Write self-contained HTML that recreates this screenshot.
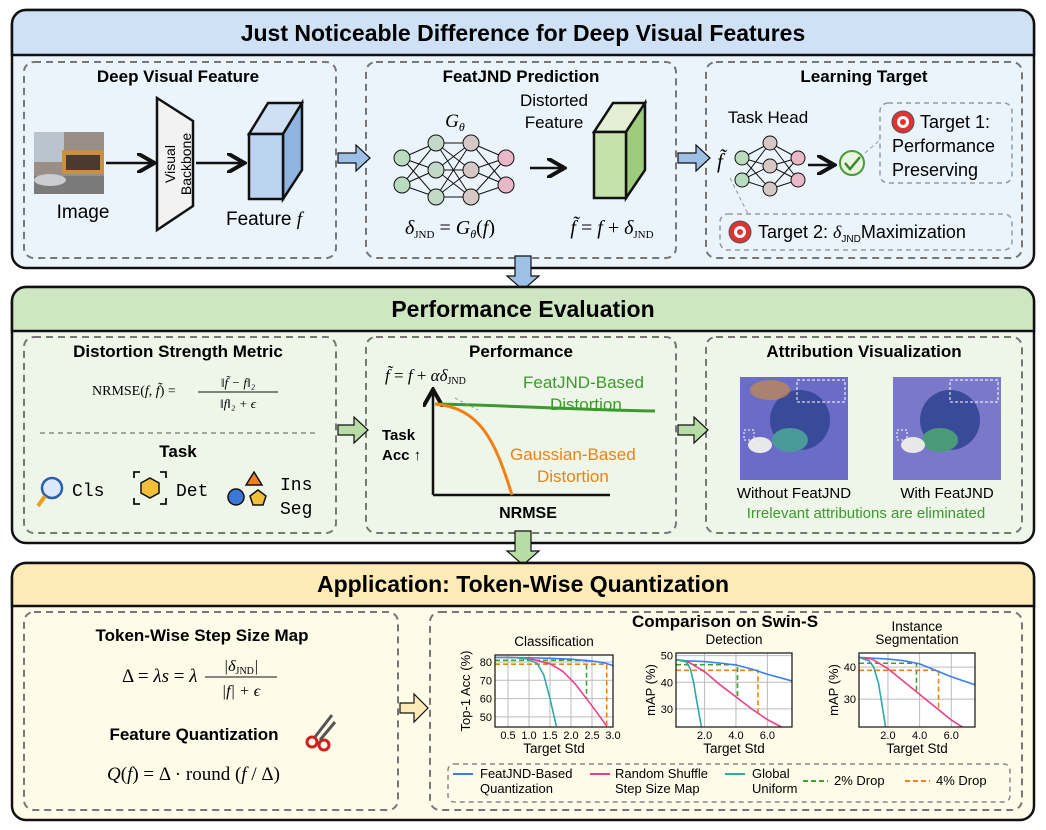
<!DOCTYPE html>
<html><head><meta charset="utf-8"><style>
body{margin:0;background:#fff;}
svg{display:block;font-family:"Liberation Sans",sans-serif;}
.t{font-weight:bold;}
.m{font-family:"Liberation Serif",serif;font-style:italic;}
</style></head><body>
<svg id="root" width="1046" height="830" viewBox="0 0 1046 830" xmlns="http://www.w3.org/2000/svg">
<defs>
<marker id="ah" markerWidth="8" markerHeight="8" refX="6" refY="4" orient="auto"><path d="M0,0 L7,4 L0,8" fill="none" stroke="#111" stroke-width="1.6"/></marker>
</defs>
<g>
<rect x="12" y="10" width="1022" height="258" rx="14" fill="#ebf3fb" stroke="#111" stroke-width="2.5"/>
<path d="M12,24 a14,14 0 0 1 14,-14 h994 a14,14 0 0 1 14,14 v31 h-1022z" fill="#cfe1f4" stroke="#111" stroke-width="2.5"/>
<text x="523" y="41" text-anchor="middle" class="t" font-size="23">Just Noticeable Difference for Deep Visual Features</text>
<rect x="24" y="62" width="312" height="196" rx="10" fill="none" stroke="#777" stroke-width="2" stroke-dasharray="7,5"/>
<rect x="366" y="62" width="310" height="196" rx="10" fill="none" stroke="#777" stroke-width="2" stroke-dasharray="7,5"/>
<rect x="706" y="62" width="316" height="196" rx="10" fill="none" stroke="#777" stroke-width="2" stroke-dasharray="7,5"/>
<text x="178" y="82" text-anchor="middle" class="t" font-size="17">Deep Visual Feature</text>
<text x="521" y="82" text-anchor="middle" class="t" font-size="17">FeatJND Prediction</text>
<text x="864" y="82" text-anchor="middle" class="t" font-size="17">Learning Target</text>
<g>
<rect x="34" y="132" width="70" height="62" fill="#9a8f86"/>
<rect x="34" y="132" width="30" height="30" fill="#b9c4cc"/>
<rect x="62" y="150" width="42" height="24" fill="#c89040"/>
<rect x="66" y="155" width="34" height="15" fill="#4a3a30"/>
<rect x="34" y="176" width="70" height="18" fill="#7a7a7a"/>
<ellipse cx="50" cy="180" rx="16" ry="6" fill="#c9cdd2"/>
</g>
<text x="83" y="218" text-anchor="middle" font-size="19">Image</text>
<line x1="106" y1="163" x2="152" y2="163" stroke="#111" stroke-width="2.5" marker-end="url(#ah)"/>
<path d="M157,98 L193,121 L193,206 L157,230 Z" fill="#f2f2f2" stroke="#111" stroke-width="2.5"/>
<text transform="translate(177,164) rotate(-90)" text-anchor="middle" font-size="14"><tspan x="0" dy="-2">Visual</tspan><tspan x="0" dy="16">Backbone</tspan></text>
<line x1="196" y1="163" x2="242" y2="163" stroke="#111" stroke-width="2.5" marker-end="url(#ah)"/>
<path d="M249,134 L268,103 L302,103 L283,134Z" fill="#cfe0f4" stroke="#111" stroke-width="2.5"/>
<path d="M283,134 L302,103 L302,170 L283,199Z" fill="#8fb4e0" stroke="#111" stroke-width="2.5"/>
<rect x="249" y="134" width="34" height="65" fill="#bcd4f0" stroke="#111" stroke-width="2.5"/>
<text x="226" y="225" font-size="19">Feature <tspan class="m">f</tspan></text>
<path d="M338,153 h18 v-8 l14,13 l-14,13 v-8 h-18z" fill="#9cc0e6" stroke="#111" stroke-width="1.2"/>
<g stroke="#111" stroke-width="1">
<path d="M402,158 L436,143 M402,158 L436,170 M402,158 L436,197 M402,185 L436,143 M402,185 L436,170 M402,185 L436,197
M436,143 L471,143 M436,143 L471,170 M436,143 L471,197 M436,170 L471,143 M436,170 L471,170 M436,170 L471,197 M436,197 L471,143 M436,197 L471,170 M436,197 L471,197
M471,143 L506,158 M471,143 L506,185 M471,170 L506,158 M471,170 L506,185 M471,197 L506,158 M471,197 L506,185"/>
<circle cx="402" cy="158" r="8" fill="#b9dcbf"/><circle cx="402" cy="185" r="8" fill="#b9dcbf"/>
<circle cx="436" cy="143" r="8" fill="#c2d9c8"/><circle cx="436" cy="170" r="8" fill="#c2d9c8"/><circle cx="436" cy="197" r="8" fill="#c2d9c8"/>
<circle cx="471" cy="143" r="8" fill="#d6c8c5"/><circle cx="471" cy="170" r="8" fill="#d6c8c5"/><circle cx="471" cy="197" r="8" fill="#d6c8c5"/>
<circle cx="506" cy="158" r="8" fill="#e9b8c8"/><circle cx="506" cy="185" r="8" fill="#e9b8c8"/>
</g>
<text x="455" y="127" text-anchor="middle" class="m" font-size="19">G<tspan font-size="12" dy="4">θ</tspan></text>
<text x="554" y="106" text-anchor="middle" font-size="17">Distorted</text>
<text x="554" y="128" text-anchor="middle" font-size="17">Feature</text>
<line x1="530" y1="168" x2="562" y2="168" stroke="#111" stroke-width="2.5" marker-end="url(#ah)"/>
<path d="M594,132 L613,103 L645,103 L626,132Z" fill="#e3f0d6" stroke="#111" stroke-width="2.5"/>
<path d="M626,132 L645,103 L645,170 L626,198Z" fill="#9fcc7c" stroke="#111" stroke-width="2.5"/>
<rect x="594" y="132" width="32" height="66" fill="#c6e2ac" stroke="#111" stroke-width="2.5"/>
<text x="450" y="234" text-anchor="middle" class="m" font-size="20">δ<tspan font-size="11" dy="4" font-style="normal">JND</tspan><tspan dy="-4" font-style="normal"> = </tspan>G<tspan font-size="12" dy="4">θ</tspan><tspan dy="-4" font-style="normal">(</tspan>f<tspan font-style="normal">)</tspan></text>
<text x="612" y="234" text-anchor="middle" class="m" font-size="20">f̃<tspan font-style="normal"> = </tspan>f<tspan font-style="normal"> + </tspan>δ<tspan font-size="11" dy="4" font-style="normal">JND</tspan></text>
<path d="M678,153 h18 v-8 l14,13 l-14,13 v-8 h-18z" fill="#9cc0e6" stroke="#111" stroke-width="1.2"/>
<text x="717" y="168" class="m" font-size="21">f̃</text>
<text x="768" y="123" text-anchor="middle" font-size="17">Task Head</text>
<g stroke="#111" stroke-width="1">
<path d="M742,158 L770,143 M742,158 L770,166 M742,158 L770,189 M742,180 L770,143 M742,180 L770,166 M742,180 L770,189 M770,143 L798,158 M770,166 L798,158 M770,189 L798,158 M770,143 L798,180 M770,166 L798,180 M770,189 L798,180"/>
<circle cx="742" cy="158" r="7" fill="#b9dcbf"/><circle cx="742" cy="180" r="7" fill="#b9dcbf"/>
<circle cx="770" cy="143" r="7" fill="#d6c8c5"/><circle cx="770" cy="166" r="7" fill="#d6c8c5"/><circle cx="770" cy="189" r="7" fill="#d6c8c5"/>
<circle cx="798" cy="158" r="7" fill="#e9b8c8"/><circle cx="798" cy="180" r="7" fill="#e9b8c8"/>
</g>
<line x1="808" y1="165" x2="832" y2="165" stroke="#111" stroke-width="2.5" marker-end="url(#ah)"/>
<circle cx="852" cy="163" r="12" fill="#e8f5e0" stroke="#4a9a3a" stroke-width="2"/>
<path d="M845,163 l5,6 l10,-12" fill="none" stroke="#3a8a2a" stroke-width="2.5"/>
<rect x="880" y="103" width="132" height="80" rx="8" fill="none" stroke="#999" stroke-width="1.5" stroke-dasharray="5,4"/>
<line x1="865" y1="153" x2="880" y2="140" stroke="#999" stroke-dasharray="4,3"/>
<circle cx="903" cy="122" r="11" fill="#d33" stroke="#555"/><circle cx="903" cy="122" r="6" fill="#fff"/><circle cx="903" cy="122" r="3" fill="#d33"/>
<text x="920" y="128" font-size="18">Target 1:</text>
<text x="892" y="152" font-size="18">Performance</text>
<text x="892" y="176" font-size="18">Preserving</text>
<rect x="720" y="214" width="292" height="36" rx="8" fill="none" stroke="#999" stroke-width="1.5" stroke-dasharray="5,4"/>
<line x1="730" y1="178" x2="748" y2="214" stroke="#999" stroke-dasharray="4,3"/>
<circle cx="740" cy="232" r="11" fill="#d33" stroke="#555"/><circle cx="740" cy="232" r="6" fill="#fff"/><circle cx="740" cy="232" r="3" fill="#d33"/>
<text x="758" y="238" font-size="18">Target 2: <tspan class="m">δ</tspan><tspan font-size="10" dy="4">JND</tspan><tspan dy="-4">Maximization</tspan></text>
</g>
<path d="M515,256 h16 v20 h8 l-16,14 l-16,-14 h8z" fill="#9cc0e6" stroke="#111" stroke-width="1.2"/>
<g>
<rect x="12" y="287" width="1022" height="256" rx="14" fill="#eef6ea" stroke="#111" stroke-width="2.5"/>
<path d="M12,301 a14,14 0 0 1 14,-14 h994 a14,14 0 0 1 14,14 v30 h-1022z" fill="#cfe6c2" stroke="#111" stroke-width="2.5"/>
<text x="523" y="317" text-anchor="middle" class="t" font-size="23">Performance Evaluation</text>
<rect x="24" y="337" width="312" height="196" rx="10" fill="none" stroke="#777" stroke-width="2" stroke-dasharray="7,5"/>
<rect x="366" y="337" width="310" height="196" rx="10" fill="none" stroke="#777" stroke-width="2" stroke-dasharray="7,5"/>
<rect x="706" y="337" width="316" height="196" rx="10" fill="none" stroke="#777" stroke-width="2" stroke-dasharray="7,5"/>
<text x="178" y="357" text-anchor="middle" class="t" font-size="17">Distortion Strength Metric</text>
<text x="92" y="395" font-family="Liberation Serif" font-size="14">NRMSE(<tspan font-style="italic">f</tspan>, <tspan font-style="italic">f̃</tspan>) =</text>
<text x="238" y="387" text-anchor="middle" font-family="Liberation Serif" font-size="13" font-style="italic">‖f̃ − f‖₂</text>
<line x1="198" y1="392" x2="278" y2="392" stroke="#111"/>
<text x="238" y="408" text-anchor="middle" font-family="Liberation Serif" font-size="13" font-style="italic">‖f‖₂ + ϵ</text>
<line x1="40" y1="433" x2="318" y2="433" stroke="#888" stroke-width="1.5" stroke-dasharray="5,4"/>
<text x="178" y="457" text-anchor="middle" class="t" font-size="17">Task</text>
<circle cx="52" cy="488" r="10" fill="#dbe9fa" stroke="#2a5fb0" stroke-width="2.5"/>
<line x1="45" y1="496" x2="38" y2="506" stroke="#e8a020" stroke-width="4"/>
<text x="72" y="496" font-family="Liberation Mono" font-size="18">Cls</text>
<path d="M134,478 v-6 h6 M160,472 h6 v6 M166,498 v6 h-6 M140,504 h-6 v-6" fill="none" stroke="#111" stroke-width="1.8"/>
<path d="M150,478 l9,5 v10 l-9,5 l-9,-5 v-10z" fill="#f2c037" stroke="#111" stroke-width="1.5"/>
<text x="176" y="496" font-family="Liberation Mono" font-size="18">Det</text>
<circle cx="236" cy="497" r="8" fill="#3a78d8" stroke="#111" stroke-width="1.5"/>
<path d="M254,472 l8,13 h-16z" fill="#f08020" stroke="#111" stroke-width="1.5"/>
<path d="M258,490 l8,6 l-3,9 h-10 l-3,-9z" fill="#f2c037" stroke="#111" stroke-width="1.5"/>
<text x="280" y="490" font-family="Liberation Mono" font-size="18">Ins</text>
<text x="280" y="514" font-family="Liberation Mono" font-size="18">Seg</text>
<path d="M338,425 h16 v-8 l14,13 l-14,13 v-8 h-16z" fill="#b8dca6" stroke="#111" stroke-width="1.2"/>
<text x="521" y="357" text-anchor="middle" class="t" font-size="17">Performance</text>
<text x="385" y="381" class="m" font-size="17">f̃<tspan font-style="normal"> = </tspan>f<tspan font-style="normal"> + </tspan>αδ<tspan font-size="10" dy="3" font-style="normal">JND</tspan></text>
<line x1="433" y1="495" x2="433" y2="392" stroke="#111" stroke-width="2.5" marker-end="url(#ah)"/>
<line x1="433" y1="495" x2="610" y2="495" stroke="#111" stroke-width="2.5"/>
<path d="M435,404 C500,405 580,410 655,411" fill="none" stroke="#3a9a2a" stroke-width="3"/>
<path d="M435,404 C480,408 495,440 512,495" fill="none" stroke="#f08010" stroke-width="3"/>
<line x1="455" y1="398" x2="478" y2="410" stroke="#999" stroke-dasharray="3,3"/>
<text x="523" y="388" font-size="17" fill="#3a9a2a">FeatJND-Based</text>
<text x="550" y="410" font-size="17" fill="#3a9a2a">Distortion</text>
<text x="510" y="460" font-size="17" fill="#f08010">Gaussian-Based</text>
<text x="537" y="482" font-size="17" fill="#f08010">Distortion</text>
<text x="382" y="440" class="t" font-size="15">Task</text>
<text x="382" y="460" class="t" font-size="15">Acc ↑</text>
<text x="528" y="518" text-anchor="middle" class="t" font-size="16">NRMSE</text>
<path d="M678,425 h16 v-8 l14,13 l-14,13 v-8 h-16z" fill="#b8dca6" stroke="#111" stroke-width="1.2"/>
<text x="864" y="357" text-anchor="middle" class="t" font-size="17">Attribution Visualization</text>
<g>
<rect x="740" y="377" width="108" height="103" fill="#6a6cc8"/>
<ellipse cx="800" cy="420" rx="30" ry="30" fill="#3a4a9a"/>
<ellipse cx="770" cy="390" rx="20" ry="10" fill="#c88a4a" opacity=".7"/>
<ellipse cx="790" cy="440" rx="18" ry="12" fill="#4a9a9a"/>
<ellipse cx="760" cy="445" rx="12" ry="8" fill="#e8e8e8"/>
<rect x="797" y="380" width="48" height="22" fill="none" stroke="#fff" stroke-dasharray="3,2"/>
<rect x="744" y="430" width="10" height="10" fill="none" stroke="#fff" stroke-dasharray="2,2"/>
</g>
<g>
<rect x="893" y="377" width="108" height="103" fill="#7a78c8"/>
<ellipse cx="950" cy="420" rx="30" ry="30" fill="#3a4a9a"/>
<ellipse cx="940" cy="440" rx="18" ry="12" fill="#4a9a7a"/>
<ellipse cx="913" cy="445" rx="12" ry="8" fill="#e8e8e8"/>
<rect x="950" y="380" width="48" height="22" fill="none" stroke="#fff" stroke-dasharray="3,2"/>
<rect x="897" y="430" width="10" height="10" fill="none" stroke="#fff" stroke-dasharray="2,2"/>
</g>
<text x="794" y="498" text-anchor="middle" font-size="15">Without FeatJND</text>
<text x="947" y="498" text-anchor="middle" font-size="15">With FeatJND</text>
<text x="866" y="518" text-anchor="middle" font-size="15" fill="#3a9a2a">Irrelevant attributions are eliminated</text>
</g>
<path d="M515,531 h16 v20 h8 l-16,14 l-16,-14 h8z" fill="#b8dca6" stroke="#111" stroke-width="1.2"/>
<g>
<rect x="12" y="563" width="1022" height="257" rx="14" fill="#fffbe9" stroke="#111" stroke-width="2.5"/>
<path d="M12,577 a14,14 0 0 1 14,-14 h994 a14,14 0 0 1 14,14 v29 h-1022z" fill="#fcebb6" stroke="#111" stroke-width="2.5"/>
<text x="523" y="592" text-anchor="middle" class="t" font-size="23">Application: Token-Wise Quantization</text>
<rect x="24" y="612" width="374" height="198" rx="10" fill="none" stroke="#777" stroke-width="2" stroke-dasharray="7,5"/>
<rect x="430" y="612" width="592" height="198" rx="10" fill="none" stroke="#777" stroke-width="2" stroke-dasharray="7,5"/>
<text x="202" y="641" text-anchor="middle" class="t" font-size="17">Token-Wise Step Size Map</text>
<text x="122" y="682" font-family="Liberation Serif" font-size="19">Δ = <tspan font-style="italic">λs</tspan> = <tspan font-style="italic">λ</tspan></text>
<text x="241" y="671" text-anchor="middle" font-family="Liberation Serif" font-size="16" font-style="italic">|δ<tspan font-size="10" dy="3" font-style="normal">JND</tspan><tspan dy="-3">|</tspan></text>
<line x1="205" y1="677" x2="277" y2="677" stroke="#111"/>
<text x="241" y="696" text-anchor="middle" font-family="Liberation Serif" font-size="16" font-style="italic">|f| + ϵ</text>
<text x="194" y="740" text-anchor="middle" class="t" font-size="17">Feature Quantization</text>
<g><circle cx="312" cy="742" r="5" fill="none" stroke="#d02020" stroke-width="3"/><circle cx="324" cy="745" r="5" fill="none" stroke="#d02020" stroke-width="3"/><path d="M315,737 L332,715 M320,740 L335,722" stroke="#555" stroke-width="3"/></g>
<text x="107" y="780" font-family="Liberation Serif" font-size="19"><tspan font-style="italic">Q</tspan>(<tspan font-style="italic">f</tspan>) = Δ · round (<tspan font-style="italic">f</tspan> / Δ)</text>
<path d="M400,703 h14 v-9 l14,14 l-14,14 v-9 h-14z" fill="#fcebb6" stroke="#111" stroke-width="1.2"/>
<text x="725" y="627" text-anchor="middle" class="t" font-size="17">Comparison on Swin-S</text>
<g id="charts"></g>
<rect x="448" y="764" width="562" height="38" rx="6" fill="none" stroke="#888" stroke-width="1.5" stroke-dasharray="5,4"/>
<g font-size="13">
<line x1="453" y1="774" x2="473" y2="774" stroke="#3a7ff0" stroke-width="2"/><text x="480" y="778">FeatJND-Based</text><text x="480" y="793">Quantization</text>
<line x1="590" y1="774" x2="610" y2="774" stroke="#e8408a" stroke-width="2"/><text x="615" y="778">Random Shuffle</text><text x="615" y="793">Step Size Map</text>
<line x1="725" y1="774" x2="745" y2="774" stroke="#30a8a8" stroke-width="2"/><text x="752" y="778">Global</text><text x="752" y="793">Uniform</text>
<line x1="803" y1="781" x2="828" y2="781" stroke="#40a030" stroke-width="2" stroke-dasharray="5,3"/><text x="834" y="785">2% Drop</text>
<line x1="905" y1="781" x2="930" y2="781" stroke="#f08010" stroke-width="2" stroke-dasharray="5,3"/><text x="936" y="785">4% Drop</text>
</g>
</g>
</svg>
<script>
const clsBlueX=[0.19,0.5,1,1.5,2,2.5,2.8,3.0];
const clsBlueY=[82.5,82.5,82.3,82,81.5,80.5,79.5,78];
const clsPinkX=[0.19,0.5,1.0,1.5,1.8,2.1,2.4,2.6,2.85];
const clsPinkY=[82.5,82.5,82,79,75,68,59,53,45];
const clsTealX=[0.19,0.7,1.0,1.2,1.35,1.5,1.65];
const clsTealY=[82.5,82.3,81.5,79,73,60,45];
const clsDrop2=[80.9,2.37,59.5];
const clsDrop4=[78.8,2.85,45];
const clsXTicks=[0.5,1.0,1.5,2.0,2.5,3.0];
const clsYTicks=[50,60,70,80];
const detBlueX=[0.18,1,2,3,4,5,6,7.57];
const detBlueY=[48.5,48,47.8,47.2,46.5,45,43,40.5];
const detPinkX=[0.18,1,2,3,4,5,6,6.9];
const detPinkY=[48.5,47.5,44,39,34.5,30,26,23.2];
const detTealX=[0.18,0.8,1.1,1.3,1.5,1.8];
const detTealY=[48.5,48,45,40,33,23.2];
const detDrop2=[46.6,4.1,34.5];
const detDrop4=[44.5,5.4,28.5];
const detXTicks=[2.0,4.0,6.0];
const detYTicks=[30,40,50];
const insBlueX=[0.17,1,2,3,4,5,6,7.5];
const insBlueY=[43,42.8,42.5,42,41,39,37,34.5];
const insPinkX=[0.17,1,2,3,4,5,6,6.7];
const insPinkY=[43,42.5,39.5,35.5,31.5,27.5,23.5,21.3];
const insTealX=[0.17,0.8,1.1,1.4,1.6,1.85];
const insTealY=[43,42,40,35,29,21.3];
const insDrop2=[41.2,3.8,32.3];
const insDrop4=[39.0,5.2,26.5];
const insXTicks=[2.0,4.0,6.0];
const insYTicks=[30,40];

const NS='http://www.w3.org/2000/svg';
const root=document.getElementById('charts');
function mk(tag,attrs,parent){const e=document.createElementNS(NS,tag);for(const k in attrs)e.setAttribute(k,attrs[k]);(parent||root).appendChild(e);return e;}
function chart(cfg){
  const g=mk('g',{});
  
  
  const sx=v=>cfg.x0+(v-cfg.xmin)/(cfg.xmax-cfg.xmin)*(cfg.x1-cfg.x0);
  const sy=v=>cfg.y1-(v-cfg.ymin)/(cfg.ymax-cfg.ymin)*(cfg.y1-cfg.y0);
  mk('rect',{x:cfg.x0,y:cfg.y0,width:cfg.x1-cfg.x0,height:cfg.y1-cfg.y0,fill:'#fff'},g);
  cfg.xt.forEach(t=>{const x=sx(t);mk('line',{x1:x,x2:x,y1:cfg.y0,y2:cfg.y1,stroke:'#bbb','stroke-width':1},g);
    const tx=mk('text',{x:x,y:cfg.y1+12,'text-anchor':'middle','font-size':11},g);tx.textContent=t.toFixed(1);});
  cfg.yt.forEach(t=>{const y=sy(t);mk('line',{x1:cfg.x0,x2:cfg.x1,y1:y,y2:y,stroke:'#bbb','stroke-width':1},g);
    const tx=mk('text',{x:cfg.x0-3,y:y+4,'text-anchor':'end','font-size':11},g);tx.textContent=t;});
  const line=(X,Y,c,n)=>{const p=mk('polyline',{points:X.map((x,i)=>sx(x)+','+sy(Y[i])).join(' '),fill:'none',stroke:c,'stroke-width':1.6},g);
    
    };
  const drop=(d,c,n)=>{const p=mk('polyline',{points:`${cfg.x0},${sy(d[0])} ${sx(d[1])},${sy(d[0])} ${sx(d[1])},${sy(d[2])}`,fill:'none',stroke:c,'stroke-width':1.6,'stroke-dasharray':'5,3'},g);
    
    };
  drop(cfg.d2,'#40a030','drop-2pct');drop(cfg.d4,'#f08010','drop-4pct');
  line(cfg.bx,cfg.by,'#3a7ff0','featjnd-line');line(cfg.px,cfg.py,'#e8408a','random-shuffle-line');line(cfg.tx,cfg.ty,'#30a8a8','global-uniform-line');
  mk('rect',{x:cfg.x0,y:cfg.y0,width:cfg.x1-cfg.x0,height:cfg.y1-cfg.y0,fill:'none',stroke:'#111','stroke-width':1.2},g);
  cfg.title.forEach((t,i)=>{const e=mk('text',{x:(cfg.x0+cfg.x1)/2,y:cfg.y0-9-(cfg.title.length-1-i)*13,'text-anchor':'middle','font-size':13.5},g);e.textContent=t;});
  const xl=mk('text',{x:(cfg.x0+cfg.x1)/2,y:cfg.y1+26,'text-anchor':'middle','font-size':13.5},g);xl.textContent='Target Std';
  const yl=mk('text',{transform:`translate(${cfg.ylx},${(cfg.y0+cfg.y1)/2}) rotate(-90)`,'text-anchor':'middle','font-size':13},g);yl.textContent=cfg.ylab;
}
chart({name:'classification-chart',x0:495,x1:613,y0:655,y1:727,xmin:0.19,xmax:3.0,ymin:44.5,ymax:83.8,xt:clsXTicks,yt:clsYTicks,bx:clsBlueX,by:clsBlueY,px:clsPinkX,py:clsPinkY,tx:clsTealX,ty:clsTealY,d2:clsDrop2,d4:clsDrop4,title:['Classification'],ylab:'Top-1 Acc (%)',ylx:470});
chart({name:'detection-chart',x0:676,x1:792,y0:653,y1:727,xmin:0.18,xmax:7.57,ymin:23.2,ymax:51,xt:detXTicks,yt:detYTicks,bx:detBlueX,by:detBlueY,px:detPinkX,py:detPinkY,tx:detTealX,ty:detTealY,d2:detDrop2,d4:detDrop4,title:['Detection'],ylab:'mAP (%)',ylx:655});
chart({name:'instance-seg-chart',x0:859,x1:975,y0:653,y1:727,xmin:0.17,xmax:7.5,ymin:21.3,ymax:44.4,xt:insXTicks,yt:insYTicks,bx:insBlueX,by:insBlueY,px:insPinkX,py:insPinkY,tx:insTealX,ty:insTealY,d2:insDrop2,d4:insDrop4,title:['Instance','Segmentation'],ylab:'mAP (%)',ylx:838});
</script>
</body></html>
